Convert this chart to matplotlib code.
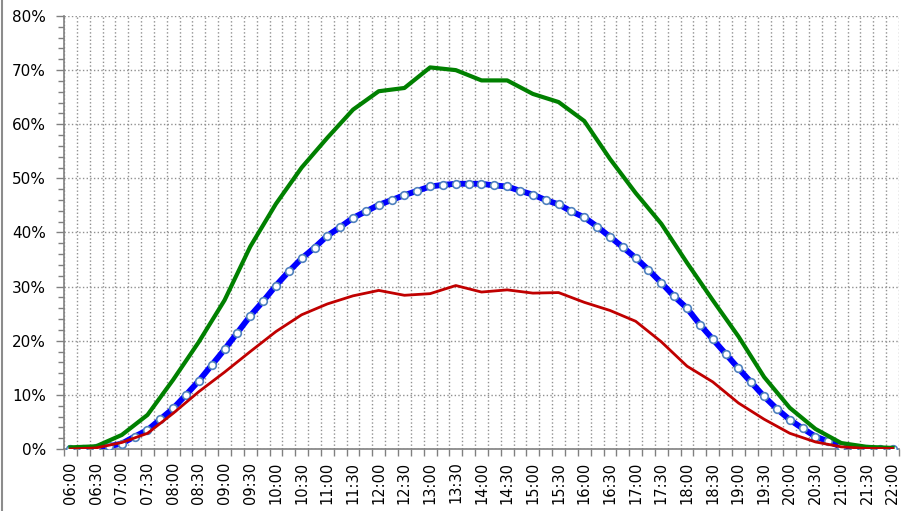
import matplotlib
matplotlib.use("Agg")
import matplotlib.pyplot as plt
from matplotlib.ticker import MultipleLocator, FuncFormatter, FixedLocator
from matplotlib.lines import Line2D

# half-hour tick labels, 06:00 .. 22:00
half_hour_labels = ["06:00", "06:30", "07:00", "07:30", "08:00", "08:30", "09:00", "09:30",
                    "10:00", "10:30", "11:00", "11:30", "12:00", "12:30", "13:00", "13:30",
                    "14:00", "14:30", "15:00", "15:30", "16:00", "16:30", "17:00", "17:30",
                    "18:00", "18:30", "19:00", "19:30", "20:00", "20:30", "21:00", "21:30",
                    "22:00"]

# blue series, every 15 minutes (%)
blue_vals = [0, 0, 0.1, 0.5, 1.0, 2.3, 3.5, 5.5, 7.5, 10.0, 12.6, 15.5, 18.4, 21.5, 24.6, 27.3,
             30.2, 32.8, 35.2, 37.2, 39.4, 41.0, 42.7, 43.9, 45.1, 46.0, 46.9, 47.7, 48.5, 48.8,
             49.0, 49.0, 49.0, 48.7, 48.5, 47.7, 47.0, 46.0, 45.2, 43.9, 42.8, 41.1, 39.2, 37.3,
             35.3, 33.1, 30.7, 28.2, 26.0, 23.0, 20.3, 17.6, 14.9, 12.3, 9.7, 7.4, 5.4, 3.8,
             2.3, 1.4, 0.4, 0.1, 0, 0, 0]

# green series, every 30 minutes (%)
green_vals = [0.3, 0.5, 2.6, 6.3, 12.8, 19.8, 27.5, 37.4, 45.3, 52.0, 57.5, 62.7, 66.1, 66.7,
              70.5, 70.0, 68.1, 68.1, 65.6, 64.1, 60.6, 53.6, 47.3, 41.6, 34.4, 27.5, 20.8,
              13.3, 7.6, 3.7, 1.1, 0.4, 0.2]

# red series, every 30 minutes (%)
red_vals = [0.0, 0.2, 1.2, 2.9, 6.6, 10.6, 14.2, 18.0, 21.7, 24.8, 26.8, 28.3, 29.3, 28.4,
            28.7, 30.2, 29.0, 29.4, 28.8, 28.9, 27.1, 25.6, 23.6, 19.8, 15.3, 12.4, 8.5, 5.5,
            2.9, 1.3, 0.4, 0.1, 0.1]

x_quarter = list(range(len(blue_vals)))
x_half = [2 * i for i in range(len(half_hour_labels))]

fig = plt.figure(figsize=(9.03, 5.11), dpi=100)
ax = fig.add_axes([64 / 903, 62 / 511, 835 / 903, 433 / 511])

ax.plot(x_quarter, blue_vals, color="#0000FF", lw=4.2, marker="o", markersize=5.5,
        markerfacecolor="white", markeredgecolor="#4F81BD", markeredgewidth=1.2, zorder=3)
ax.plot(x_half, green_vals, color="#008000", lw=3.0, zorder=4)
ax.plot(x_half, red_vals, color="#C00000", lw=2.0, zorder=5)

ax.set_xlim(-0.5, len(blue_vals) - 0.5)
ax.set_ylim(0, 80)

# x: labels every half hour, tick marks + grid at category boundaries
ax.xaxis.set_major_locator(FixedLocator(x_half))
ax.set_xticklabels(half_hour_labels, rotation=90)
ax.xaxis.set_minor_locator(FixedLocator([i - 0.5 for i in range(len(blue_vals) + 1)]))
ax.tick_params(axis="x", which="major", length=0, pad=9, labelsize=10.5)
ax.tick_params(axis="x", which="minor", length=5, width=1, color="#808080", direction="out")
ax.grid(True, axis="x", which="minor", linestyle=":", color="#909090", lw=1)

# y: 10% major, 2% minor
ax.yaxis.set_major_locator(MultipleLocator(10))
ax.yaxis.set_minor_locator(MultipleLocator(2))
ax.yaxis.set_major_formatter(FuncFormatter(lambda v, p: "%d%%" % round(v)))
ax.tick_params(axis="y", which="major", length=6, width=1, color="#808080", pad=7, labelsize=11)
ax.tick_params(axis="y", which="minor", length=4.5, width=1, color="#808080")
ax.grid(True, axis="y", which="major", linestyle=":", color="#909090", lw=1)

for s in ["top", "right"]:
    ax.spines[s].set_visible(False)
for s in ["left", "bottom"]:
    ax.spines[s].set_color("#808080")
    ax.spines[s].set_linewidth(1.2)
ax.set_axisbelow(True)

# chart border on the left edge
fig.add_artist(Line2D([2 / 903, 2 / 903], [0, 1], transform=fig.transFigure,
                      color="#8c8c8c", lw=1.5))

fig.savefig("out.png", dpi=100)
